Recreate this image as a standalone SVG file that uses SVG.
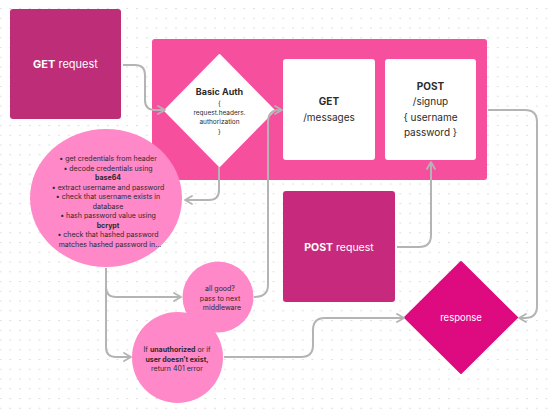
<svg xmlns="http://www.w3.org/2000/svg" width="548" height="414" viewBox="0 0 548 414">
<defs>
<pattern id="dots" x="-0.5" y="8" width="9.75" height="9.75" patternUnits="userSpaceOnUse">
<circle cx="1" cy="0.6" r="0.65" fill="#c8c8c8"/>
</pattern>
<marker id="arr" viewBox="0 0 10 10" refX="9" refY="5" markerWidth="10" markerHeight="10" markerUnits="userSpaceOnUse" orient="auto">
<path d="M2,1 L9,5 L2,9" fill="none" stroke="#b4b4b4" stroke-width="1.8" stroke-linecap="round" stroke-linejoin="round"/>
</marker>
<style>
text{font-family:Inter,"Noto Sans","Liberation Sans",sans-serif;text-anchor:middle}
.w{fill:#ffffff}
.d{fill:#2b2b2b}
.b{font-weight:700}
.edge{fill:none;stroke:#b4b4b4;stroke-width:2;marker-end:url(#arr)}
.circ{fill:#ff88c8}
</style>
</defs>
<rect width="548" height="414" fill="#ffffff"/>
<rect width="548" height="414" fill="url(#dots)"/>

<g id="container">
<rect x="152" y="39" width="335" height="141" rx="3" fill="#f54f9d"/>
</g>

<g id="get-request">
<rect x="10" y="9" width="111" height="110" rx="3" fill="#bd2d78"/>
<text x="65.5" y="68" font-size="11" class="w"><tspan class="b">GET</tspan> request</text>
</g>

<g id="basic-auth">
<path d="M219.5,55 L274,110.5 L219.5,166 L165,110.5 Z" fill="#ffffff" stroke="#ffffff" stroke-width="2" stroke-linejoin="round"/>
<text x="219.5" y="95" font-size="9" class="d b">Basic Auth</text>
<text x="219.5" y="106" font-size="6.5" class="d">{</text>
<text x="219.5" y="115" font-size="6.5" class="d">request.headers.</text>
<text x="219.5" y="124" font-size="6.5" class="d">authorization</text>
<text x="219.5" y="134" font-size="6.5" class="d">}</text>
</g>

<g id="get-messages">
<rect x="283" y="59" width="92" height="101" rx="3" fill="#ffffff"/>
<text x="329" y="105" font-size="10" class="d b">GET</text>
<text x="329" y="121" font-size="10" class="d">/messages</text>
</g>

<g id="post-signup">
<rect x="385" y="59" width="91" height="101" rx="3" fill="#ffffff"/>
<text x="430.5" y="90" font-size="10" class="d b">POST</text>
<text x="430.5" y="105" font-size="10" class="d">/signup</text>
<text x="430.5" y="121" font-size="10" class="d">{ username</text>
<text x="430.5" y="136" font-size="10" class="d">password }</text>
</g>

<g id="middleware-steps">
<ellipse cx="106" cy="198" rx="76" ry="69" class="circ"/>
<g font-size="7" class="d">
<text x="108" y="161">•  get credentials from header</text>
<text x="108" y="171">•  decode credentials using</text>
<text x="108" y="180" class="b">base64</text>
<text x="108" y="190">•  extract username and password</text>
<text x="108" y="199">•  check that username exists in</text>
<text x="108" y="209">database</text>
<text x="108" y="218">•  hash password value using</text>
<text x="108" y="228" class="b">bcrypt</text>
<text x="108" y="237">•  check that hashed password</text>
<text x="110" y="247">matches hashed password in...</text>
</g>
</g>

<g id="all-good">
<circle cx="218" cy="297" r="35.5" class="circ"/>
<text x="220" y="291" font-size="7" class="d">all good?</text>
<text x="220" y="300.5" font-size="7" class="d">pass to next</text>
<text x="222" y="310" font-size="7" class="d">middleware</text>
</g>

<g id="unauthorized">
<circle cx="177.5" cy="357.5" r="45.5" class="circ"/>
<text x="177" y="352" font-size="7" class="d">If <tspan class="b">unauthorized</tspan> or if</text>
<text x="177" y="361.5" font-size="7" class="d b">user doesn’t exist,</text>
<text x="177" y="371" font-size="7" class="d">return 401 error</text>
</g>

<g id="post-request">
<rect x="283" y="191" width="112" height="111" rx="3" fill="#c72a7c"/>
<text x="339" y="251" font-size="10.5" class="w"><tspan class="b">POST</tspan> request</text>
</g>

<g id="response">
<path d="M461,262 L517,317.5 L461,373 L405,317.5 Z" fill="#de0a7f" stroke="#de0a7f" stroke-width="2" stroke-linejoin="round"/>
<text x="461" y="321" font-size="9.5" class="w">response</text>
</g>

<g id="connectors">
<path class="edge" d="M123,65 H135 Q145,65 145,75 V100 Q145,110 155,110 H165"/>
<path class="edge" d="M219,167 V190 Q219,200 209,200 H185"/>
<path class="edge" d="M106,268 V287 Q106,297 116,297 H181"/>
<path class="edge" d="M106,285 V347 Q106,357 116,357 H131"/>
<path class="edge" d="M254,297 Q268,297 268,285 V122 Q268,110 280,110 H282"/>
<path class="edge" d="M397,247 H419 Q431,247 431,235 V162"/>
<path class="edge" d="M488,110 H525 Q537,110 537,122 V306 Q537,318 525,318 H519"/>
<path class="edge" d="M224,357 H301 Q313,357 313,345 V330 Q313,318 325,318 H404"/>
</g>
</svg>
